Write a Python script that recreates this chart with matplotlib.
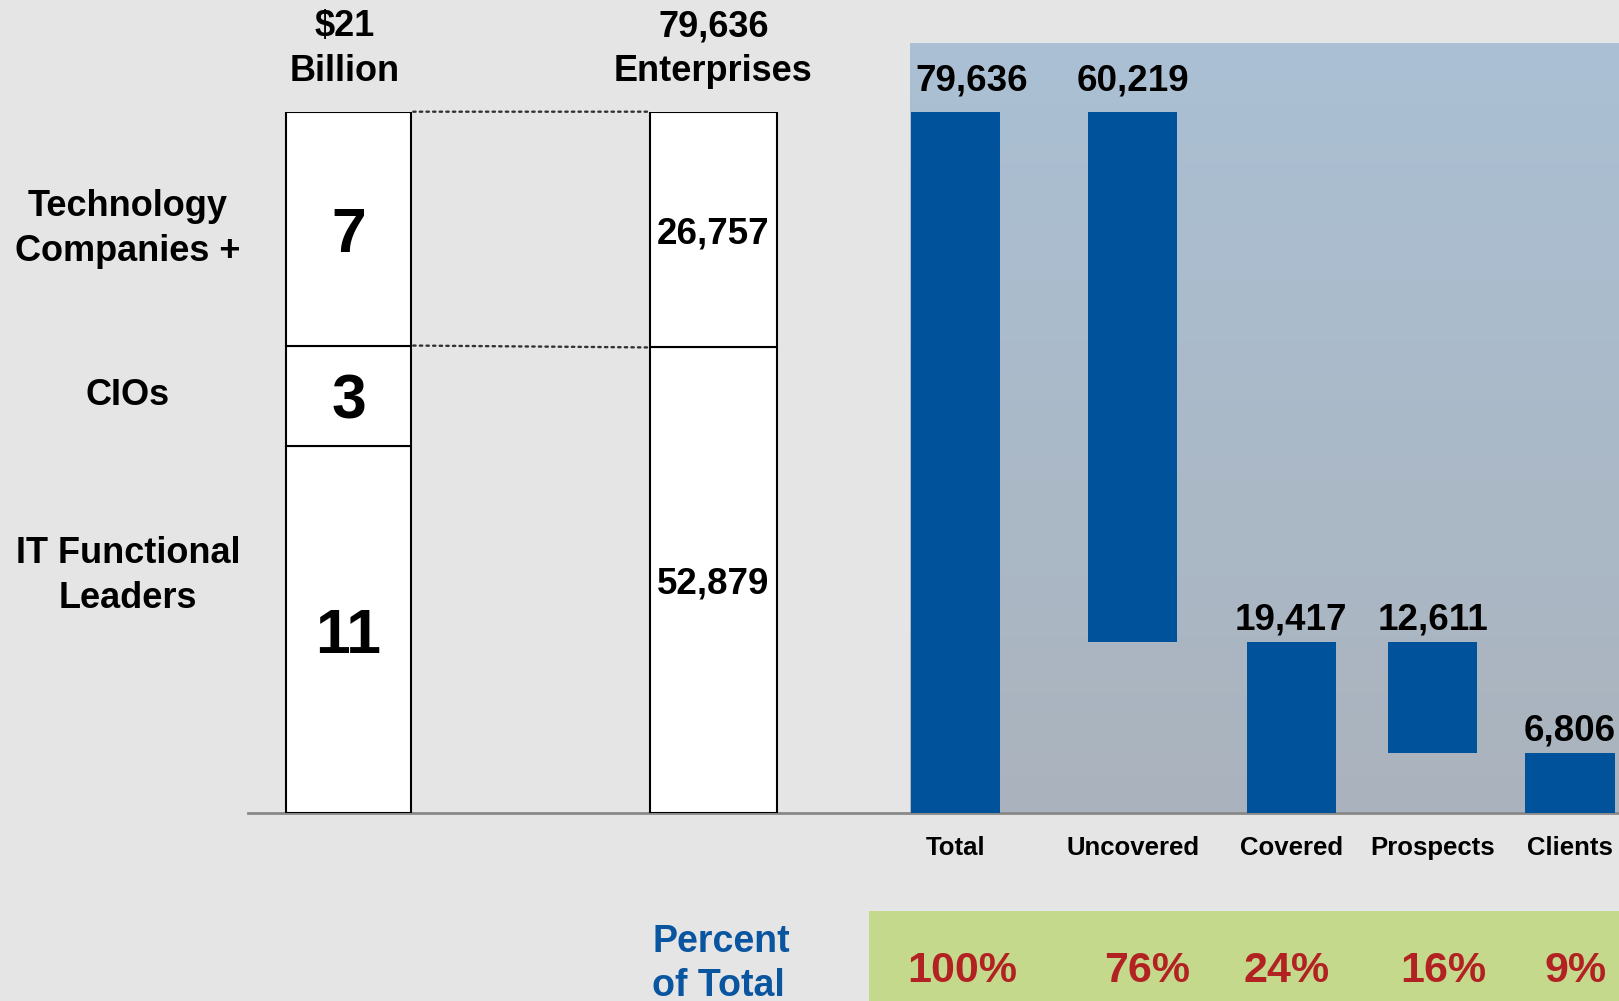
import numpy as np
import matplotlib
matplotlib.use("Agg")
import matplotlib.pyplot as plt
from matplotlib.patches import Rectangle, ConnectionPatch
from matplotlib import transforms

# ---------------- data ----------------
spend_labels = ["IT Functional\nLeaders", "CIOs", "Technology\nCompanies +"]
spend_billions = [11, 3, 7]                      # stacked bottom -> top
enterprise_counts = [52879, 26757]               # stacked bottom -> top
funnel_categories = ["Total", "Uncovered", "Covered", "Prospects", "Clients"]
funnel_values = [79636, 60219, 19417, 12611, 6806]

# floating bars: Uncovered sits on Covered, Prospects sits on Clients
funnel_bases = [0, funnel_values[2], 0, funnel_values[4], 0]
funnel_total = funnel_values[0]
funnel_pct = [round(v / funnel_total * 100) for v in funnel_values]

# ---------------- style ----------------
BG = "#E5E5E5"
BAR_BLUE = "#00529B"
GREEN = "#C4D98C"
RED = "#B22222"
TEXT_BLUE = "#0A55A0"
PANEL_TOP = np.array([171, 192, 212]) / 255
PANEL_BOT = np.array([170, 179, 189]) / 255

plt.rcParams["font.family"] = ["Liberation Sans", "DejaVu Sans"]
plt.rcParams["font.weight"] = "bold"

W, H, DPI = 1619, 1001, 100
fig = plt.figure(figsize=(W / DPI, H / DPI), dpi=DPI, facecolor=BG)


def fx(px):
    return px / W


def fy(py):
    return 1 - py / H


# layout (pixel units along x)
X0, X1 = 248, 1619
Y_TOP, Y_BASE = 111.7, 813.3
SPEND_X, SPEND_W = 348.5, 125.5
ENT_X, ENT_W = 713.3, 126.5
FUNNEL_X = [955.5, 1132.6, 1291.3, 1432.5, 1570.0]
FUNNEL_W = 89.3

# gradient backdrop behind the funnel
pax = fig.add_axes([fx(910), fy(Y_BASE), (X1 - 910) / W, (Y_BASE - 43.3) / H], zorder=0)
grad = np.linspace(0, 1, 256)[:, None, None]
img = PANEL_TOP * (1 - grad) + PANEL_BOT * grad
pax.imshow(img, aspect="auto", extent=[0, 1, 0, 1], origin="upper")
pax.set_axis_off()

# green strip for the percentages
fig.patches.append(Rectangle((fx(869.3), 0), 1 - fx(869.3), fy(911),
                             transform=fig.transFigure, facecolor=GREEN,
                             edgecolor="none", zorder=0))

# main axes: enterprises + funnel share the count scale
ax = fig.add_axes([fx(X0), fy(Y_BASE), (X1 - X0) / W, (Y_BASE - Y_TOP) / H], zorder=2)
ax.set_xlim(X0, X1)
ax.set_ylim(0, funnel_total)
ax.patch.set_alpha(0)
ax.set_axis_off()

# twin axes for the spend ($ billion) scale
axm = ax.twinx()
axm.set_ylim(0, sum(spend_billions))
axm.patch.set_alpha(0)
axm.set_axis_off()

# baseline
ax.axhline(0, color="#888888", lw=2.0, zorder=1, clip_on=False)

# spend stacked bar
spend_bottoms = np.concatenate([[0], np.cumsum(spend_billions)[:-1]])
axm.bar([SPEND_X] * len(spend_billions), spend_billions, bottom=spend_bottoms,
        width=SPEND_W, color="white", edgecolor="black", linewidth=1.5, zorder=3)
for v, b in zip(spend_billions, spend_bottoms):
    axm.text(SPEND_X, b + v / 2, f"{v}", ha="center", va="center_baseline",
             fontsize=45, fontweight="bold", zorder=4)

# enterprises stacked bar
ent_bottoms = np.concatenate([[0], np.cumsum(enterprise_counts)[:-1]])
ax.bar([ENT_X] * len(enterprise_counts), enterprise_counts, bottom=ent_bottoms,
       width=ENT_W, color="white", edgecolor="black", linewidth=1.5, zorder=3)
for v, b in zip(enterprise_counts, ent_bottoms):
    ax.text(ENT_X, b + v / 2, f"{v:,}", ha="center", va="center_baseline",
            fontsize=26.5, fontweight="bold", zorder=4)

# dotted connectors between the two stacks
spend_right = SPEND_X + SPEND_W / 2
ent_left = ENT_X - ENT_W / 2
for ya, yb in [(sum(spend_billions), sum(enterprise_counts)),
               (spend_bottoms[-1], ent_bottoms[-1])]:
    con = ConnectionPatch(xyA=(spend_right + 2, ya), coordsA=axm.transData,
                          xyB=(ent_left - 1, yb), coordsB=ax.transData,
                          color="#333333", lw=1.7, linestyle=(0, (1, 1.8)), zorder=5)
    fig.add_artist(con)

# funnel bars
ax.bar(FUNNEL_X, funnel_values, bottom=funnel_bases, width=FUNNEL_W,
       color=BAR_BLUE, linewidth=0, zorder=3)
label_gap_pt = [15, 15, 9.4, 9.4, 9.4]
label_dx_pt = [11.9, 0, 0, 0, 0]
for x, v, b, gap, dx in zip(FUNNEL_X, funnel_values, funnel_bases, label_gap_pt, label_dx_pt):
    ax.annotate(f"{v:,}", (x, b + v), xytext=(dx, gap), textcoords="offset points",
                ha="center", va="baseline", fontsize=26.5, fontweight="bold",
                annotation_clip=False, zorder=4)

# category labels and percentages (x in data, y in figure)
blend = transforms.blended_transform_factory(ax.transData, fig.transFigure)
for x, c in zip(FUNNEL_X, funnel_categories):
    ax.text(x, fy(855), c, transform=blend, ha="center", va="baseline",
            fontsize=18.5, fontweight="bold")

pct_dx = [7, 15, -5, 11, 5.6]
for x, p, dx in zip(FUNNEL_X, funnel_pct, pct_dx):
    ax.text(x + dx, fy(981.7), f"{p}%", transform=blend, ha="center", va="baseline",
            fontsize=31, fontweight="bold", color=RED)

# column headers (anchored on the baseline of the second line)
ax.text(SPEND_X - 4, fy(81), f"${sum(spend_billions)}\nBillion", transform=blend,
        ha="center", va="baseline", fontsize=26, fontweight="bold", linespacing=1.37)
ax.text(ENT_X, fy(81), f"{sum(enterprise_counts):,}\nEnterprises", transform=blend,
        ha="center", va="baseline", fontsize=26, fontweight="bold", linespacing=1.37)

# row labels for the spend stack (the largest one sits above its segment centre)
row_blend = transforms.blended_transform_factory(fig.transFigure, axm.transData)
row_lift = [1.6, 0, 0]
for lab, v, b, lift in zip(spend_labels, spend_billions, spend_bottoms, row_lift):
    axm.text(fx(128), b + v / 2 + lift, lab, transform=row_blend, ha="center",
             va="center", fontsize=26, fontweight="bold", linespacing=1.37)

fig.text(fx(652), fy(996), "Percent\nof Total", ha="left", va="baseline",
         fontsize=27, fontweight="bold", color=TEXT_BLUE, linespacing=1.30)

fig.savefig("out.png", dpi=DPI, facecolor=BG)
